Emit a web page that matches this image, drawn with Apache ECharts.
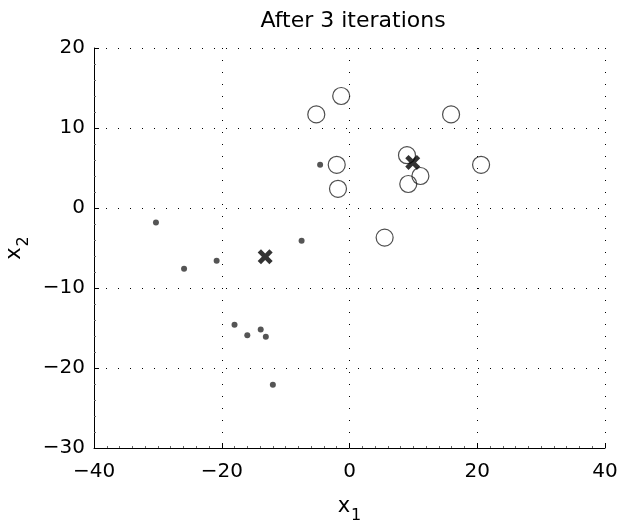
<!DOCTYPE html>
<html>
<head>
<meta charset="utf-8">
<script src="https://cdn.jsdelivr.net/npm/echarts@6/dist/echarts.min.js"></script>
<style>
  html, body { margin: 0; padding: 0; background: #fff; }
  #main { width: 619px; height: 526px; }
</style>
</head>
<body>
<div id="main"></div>
<script>
// cluster 1 members (small dots)
var dotPoints = [
  [-30.3, -1.8], [-25.9, -7.6], [-20.8, -6.6], [-7.5, -4.1], [-4.6, 5.4],
  [-18.0, -14.6], [-16.0, -15.9], [-13.9, -15.2], [-13.1, -16.1], [-12.0, -22.1]
];
// cluster 2 members (open circles)
var circlePoints = [
  [-1.3, 14.0], [-5.2, 11.7], [15.9, 11.7], [-2.0, 5.4], [9.0, 6.6],
  [20.6, 5.4], [11.1, 4.0], [9.2, 3.0], [-1.8, 2.4], [5.5, -3.7]
];
// current centroids
var centroids = [[-13.2, -6.1], [9.9, 5.7]];

var xTicks = { min: -40, max: 40, interval: 20 };
var yTicks = { min: -30, max: 20, interval: 10 };

var font = "'DejaVu Sans', sans-serif";
var crossPath = "path://M0,2.2 L2.2,0 L5,2.8 L7.8,0 L10,2.2 L7.2,5 L10,7.8 L7.8,10 L5,7.2 L2.2,10 L0,7.8 L2.8,5 Z";

var chart = echarts.init(document.getElementById("main"));

chart.setOption({
  animation: false,
  title: {
    text: "After 3 iterations",
    left: 348,
    top: 5,
    textAlign: "center",
    textStyle: { fontFamily: font, fontSize: 22, fontWeight: "normal", color: "#000" }
  },
  grid: { left: 94, right: 14, top: 48, bottom: 78, outerBoundsMode: "none", containLabel: false },
  xAxis: {
    type: "value",
    min: xTicks.min,
    max: xTicks.max,
    interval: xTicks.interval,
    axisLine: { show: true, onZero: false, lineStyle: { color: "#000", width: 1 } },
    axisTick: { show: true, inside: true, length: 5, lineStyle: { color: "#000" } },
    minorTick: { show: true, splitNumber: 10, length: 2, lineStyle: { color: "#666" } },
    axisLabel: {
      fontFamily: font, fontSize: 20, color: "#000", margin: 14,
      formatter: function (v) { return String(v).replace("-", "\u2212"); }
    },
    splitLine: { show: true, lineStyle: { color: "#000", type: [1, 11], width: 1 } },
    name: "{a|x}{b|1}",
    nameLocation: "middle",
    nameGap: 42,
    nameTextStyle: {
      rich: {
        a: { fontFamily: font, fontSize: 21, color: "#000" },
        b: { fontFamily: font, fontSize: 16, color: "#000", padding: [18, 0, 0, 1] }
      }
    }
  },
  yAxis: {
    type: "value",
    min: yTicks.min,
    max: yTicks.max,
    interval: yTicks.interval,
    axisLine: { show: true, onZero: false, lineStyle: { color: "#000", width: 1 } },
    axisTick: { show: true, inside: true, length: 5, lineStyle: { color: "#000" } },
    minorTick: { show: true, splitNumber: 5, length: 2, lineStyle: { color: "#666" } },
    axisLabel: {
      fontFamily: font, fontSize: 20, color: "#000", margin: 9,
      formatter: function (v) { return String(v).replace("-", "\u2212"); }
    },
    splitLine: { show: true, lineStyle: { color: "#000", type: [1, 11], width: 1 } },
    name: "{a|x}{b|2}",
    nameLocation: "middle",
    nameGap: 54,
    nameRotate: 90,
    nameTextStyle: {
      rich: {
        a: { fontFamily: font, fontSize: 21, color: "#000" },
        b: { fontFamily: font, fontSize: 16, color: "#000", padding: [18, 0, 0, 1] }
      }
    }
  },
  series: [
    {
      name: "cluster 1",
      type: "scatter",
      data: dotPoints,
      symbol: "circle",
      symbolSize: 6,
      itemStyle: { color: "#2a2a2a" }
    },
    {
      name: "cluster 2",
      type: "scatter",
      data: circlePoints,
      symbol: "circle",
      symbolSize: 17,
      itemStyle: { color: "rgba(255,255,255,0)", borderColor: "#222", borderWidth: 1.2 }
    },
    {
      name: "centroids",
      type: "scatter",
      data: centroids,
      symbol: crossPath,
      symbolSize: 15,
      itemStyle: { color: "#000" },
      z: 5
    }
  ]
});
</script>
</body>
</html>
